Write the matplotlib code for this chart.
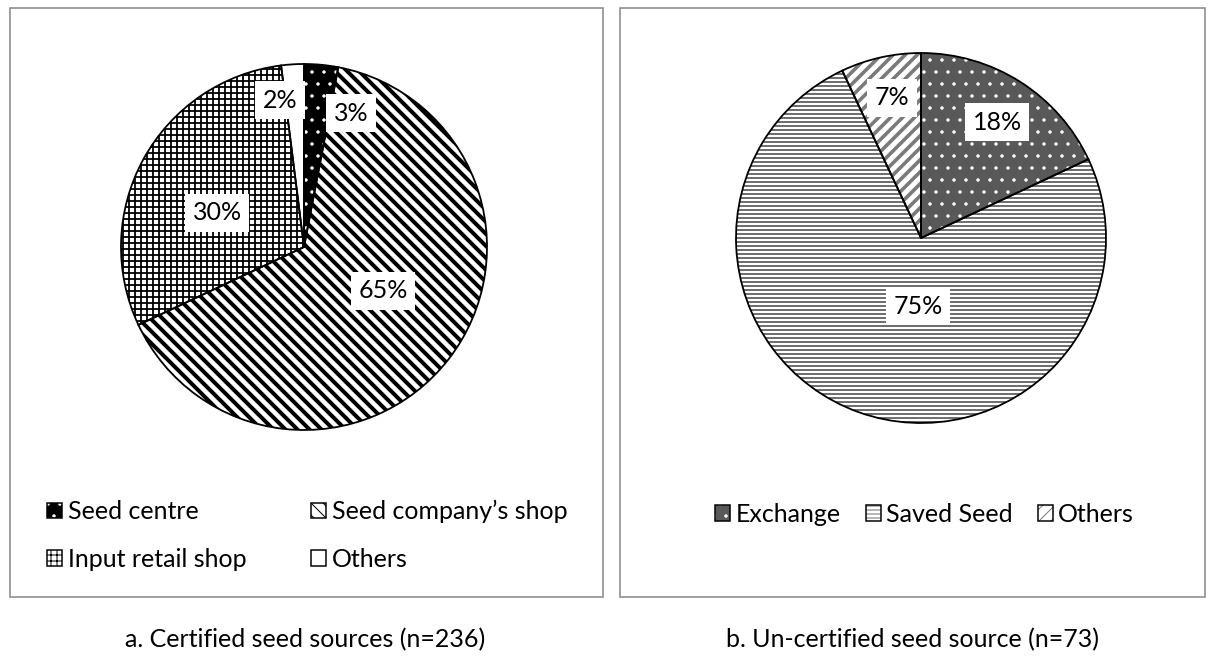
import matplotlib
matplotlib.use("Agg")
import matplotlib.pyplot as plt
from matplotlib.patches import Rectangle, Patch
from matplotlib.legend_handler import HandlerTuple

# at 72 dpi one point is one pixel and a hatch tile is 72 px
DPI = 72
W, H = 1210, 664

# a. certified seed sources
cert_labels = ["Seed centre", "Seed company\u2019s shop", "Input retail shop", "Others"]
cert_values = [3, 65, 30, 2]

# b. un-certified seed sources
uncert_labels = ["Exchange", "Saved Seed", "Others"]
uncert_values = [18, 75, 7]

captions = ["a. Certified seed sources (n=236)", "b. Un-certified seed source (n=73)"]

plt.rcParams["font.family"] = ["Lato", "DejaVu Sans"]

BSL = chr(92)  # backslash hatch


def fx(px):
    return px / W


def fy(px):
    return 1 - px / H


# face, hatch, hatch colour, hatch linewidth (px)
cert_styles = [
    ("black", ".", "white", 1.0),
    ("white", BSL * 2, "black", 4.0),
    ("white", "++", "black", 1.8),
    ("white", "", "white", 1.0),
]
uncert_styles = [
    ("#595959", ".", "white", 1.0),
    ("white", "---", "#707070", 2.0),
    ("white", "//", "#7a7a7a", 3.6),
]

# percentage label spots, in pie units
cert_label_pos = [(0.257, 0.732), (0.432, -0.24), (-0.475, 0.186), (-0.131, 0.803)]
uncert_label_pos = [(0.411, 0.627), (-0.016, -0.368), (-0.157, 0.757)]


def styled_patch(face, hatch, hcolor, hlw):
    p = Patch(facecolor=face, edgecolor=hcolor, hatch=hatch, linewidth=0)
    if hasattr(p, "set_hatch_linewidth"):
        p.set_hatch_linewidth(hlw)
    return p


def draw_pie(ax, values, styles, label_pos):
    wedges, _ = ax.pie(values, startangle=90, counterclock=False,
                       wedgeprops=dict(linewidth=0))
    for w, (face, hatch, hcolor, hlw) in zip(wedges, styles):
        w.set_facecolor(face)
        w.set_edgecolor(hcolor)
        w.set_hatch(hatch)
        if hasattr(w, "set_hatch_linewidth"):
            w.set_hatch_linewidth(hlw)
    # black outlines on top
    ax.pie(values, startangle=90, counterclock=False,
           wedgeprops=dict(facecolor="none", edgecolor="black", linewidth=1.8))
    for v, (x, y) in zip(values, label_pos):
        ax.text(x, y, f"{v}%", ha="center", va="center", fontsize=25,
                bbox=dict(boxstyle="square,pad=0.3", facecolor="white", edgecolor="none"))
    ax.set_xlim(-1.02, 1.02)
    ax.set_ylim(-1.02, 1.02)
    ax.set_aspect("equal")
    ax.axis("off")


fig = plt.figure(figsize=(W / DPI + 1e-4, H / DPI + 1e-4), dpi=DPI)

# panel frames
for x0, x1 in [(10, 603), (620, 1205)]:
    fig.patches.append(Rectangle((fx(x0), fy(597)), fx(x1 - x0), (597 - 8) / H,
                                 transform=fig.transFigure, fill=False,
                                 edgecolor="#8c8c8c", linewidth=1.6))

# left pie: centre (304, 247), radius 183 px
r = 183 * 1.02
ax1 = fig.add_axes([fx(304 - r), fy(247 + r), fx(2 * r), 2 * r / H])
draw_pie(ax1, cert_values, cert_styles, cert_label_pos)

# right pie: centre (921, 238), radius 185 px
r = 185 * 1.02
ax2 = fig.add_axes([fx(921 - r), fy(238 + r), fx(2 * r), 2 * r / H])
draw_pie(ax2, uncert_values, uncert_styles, uncert_label_pos)


def legend_handles(styles):
    out = []
    for s in styles:
        out.append((styled_patch(*s),
                    Patch(facecolor="none", edgecolor="black", linewidth=1.5)))
    return out


leg_kw = dict(frameon=False, fontsize=25, handlelength=0.6, handleheight=0.6,
              handletextpad=0.22, handler_map={tuple: HandlerTuple(ndivide=1, pad=0)},
              borderaxespad=0, borderpad=0)

h1 = legend_handles(cert_styles)
order = [0, 2, 1, 3]
fig.legend([h1[i] for i in order], [cert_labels[i] for i in order], ncol=2,
           loc="upper left", bbox_to_anchor=(fx(47), fy(500)),
           labelspacing=0.97, columnspacing=2.6, **leg_kw)

h2 = legend_handles(uncert_styles)
fig.legend(h2, uncert_labels, ncol=3, loc="upper left",
           bbox_to_anchor=(fx(715), fy(503)), columnspacing=1.0, **leg_kw)

# captions under the panels
fig.text(fx(305), fy(640), captions[0], ha="center", va="center", fontsize=25)
fig.text(fx(912), fy(640), captions[1], ha="center", va="center", fontsize=25)

fig.savefig("out.png", dpi=DPI)
